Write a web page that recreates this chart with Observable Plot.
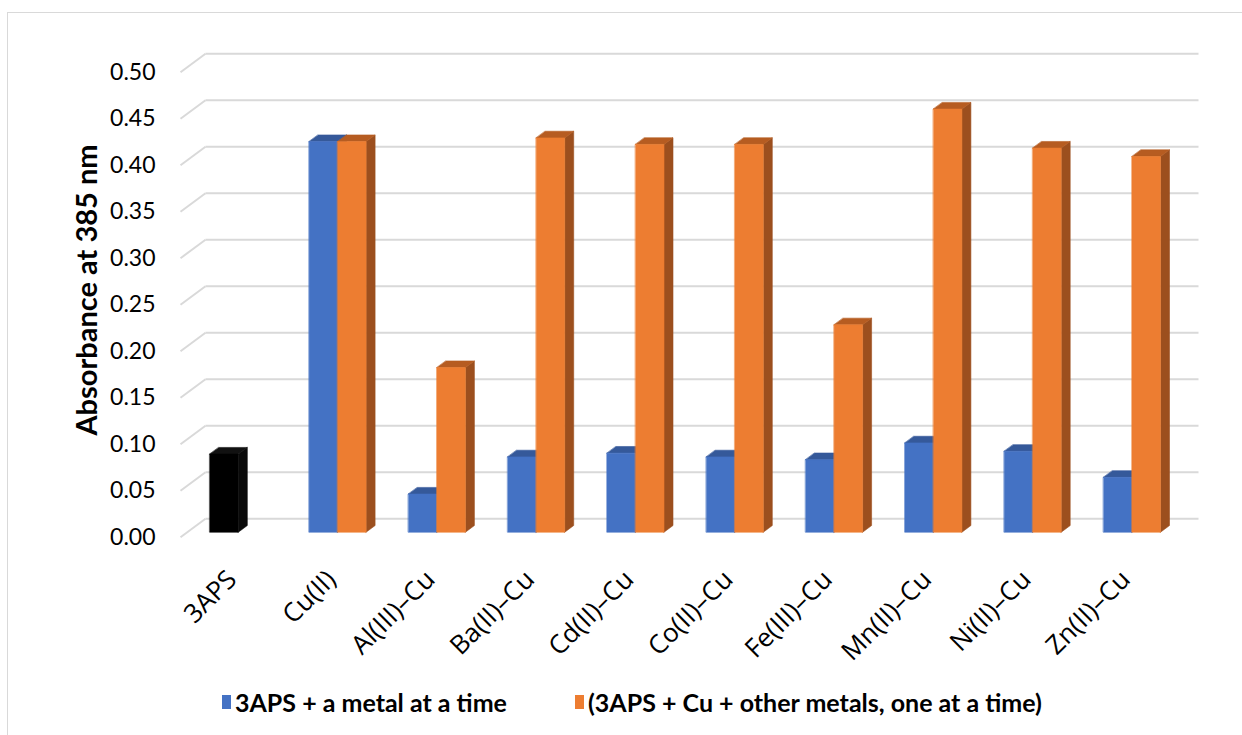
<!DOCTYPE html>
<html>
<head>
<meta charset="utf-8">
<script src="https://cdn.jsdelivr.net/npm/d3@7"></script>
<script src="https://cdn.jsdelivr.net/npm/@observablehq/plot@0.6"></script>
<style>
  html, body { margin: 0; padding: 0; background: #fff; }
  #chart { position: relative; width: 1242px; height: 735px; overflow: hidden; font-family: Lato, "Open Sans", sans-serif; }
  #frame { position: absolute; left: 7px; top: 12px; width: 1260px; height: 760px; border: 1.5px solid #d9d9d9; box-sizing: border-box; }
  #plot { position: absolute; left: 0; top: 0; }
  #ytitle { position: absolute; left: 85px; top: 290px; transform: translate(-50%, -50%) rotate(-90deg); white-space: nowrap; font-weight: 700; font-size: 29px; color: #000; }
  #legend { position: absolute; top: 685px; left: 222px; height: 34px; white-space: nowrap; font-weight: 700; font-size: 25px; color: #000; }
  .sw { display: inline-block; width: 9px; height: 14px; margin-right: 4px; }
  .item { position: absolute; top: 0; display: flex; align-items: center; height: 34px; }
</style>
</head>
<body>
<div id="chart">
  <div id="frame"></div>
  <div id="plot"></div>
  <div id="ytitle"></div>
  <div id="legend"></div>
</div>
<script>
// Absorbance at 385 nm of 3APS alone, with one metal, and with Cu plus a second metal
const categories = ["3APS", "Cu(II)", "Al(III)–Cu", "Ba(II)–Cu", "Cd(II)–Cu", "Co(II)–Cu", "Fe(III)–Cu", "Mn(II)–Cu", "Ni(II)–Cu", "Zn(II)–Cu"];
const singleMetal = [0.084, 0.420, 0.041, 0.081, 0.085, 0.081, 0.078, 0.096, 0.087, 0.059];
const withCopper  = [null, 0.420, 0.177, 0.424, 0.417, 0.417, 0.223, 0.455, 0.413, 0.404];
const seriesNames = ["3APS + a metal at a time", "(3APS + Cu + other metals, one at a time)"];
const yTicks = [0, 0.05, 0.10, 0.15, 0.20, 0.25, 0.30, 0.35, 0.40, 0.45, 0.50];
const yTitle = "Absorbance at 385 nm";
const referenceCategory = "3APS";

// --- layout of the pseudo-3D box ---
const W = 1242, H = 650;
const mLeft = 180, mRight = W - 1173, mTop = 71.7, mBottom = H - 536.7;
const pxPerX = (W - mLeft - mRight) / categories.length;
const pxPerY = (H - mTop - mBottom) / 0.5;
const depthPx = [25, 18.5];                 // back wall offset (right, up)
const dX = depthPx[0] / pxPerX, dY = depthPx[1] / pxPerY;
const proj = (x, y, z) => ({x: x + z * dX, y: y + z * dY});

// bar geometry (in x units, depth fraction)
const barW = 28.5 / pxPerX;
const barStart = (209.3 - mLeft - 0.27 * depthPx[0]) / pxPerX;
const z0 = 0.27, z1 = 0.63;

const faceColors = {
  blue:   {front: "#4472c4", top: "#35599a", side: "#2f5090"},
  orange: {front: "#ed7d31", top: "#b65c21", side: "#9c4f1e"},
  black:  {front: "#000000", top: "#111111", side: "#0a0a0a"}
};

// build polygons for every bar face, in paint order (left to right)
const faces = [];
categories.forEach((c, i) => {
  [singleMetal[i], withCopper[i]].forEach((v, s) => {
    if (v == null) return;
    const pal = c === referenceCategory ? faceColors.black : (s === 0 ? faceColors.blue : faceColors.orange);
    const xa = i + barStart + s * barW, xb = xa + barW;
    const id = `${i}-${s}`;
    const poly = (name, pts) => pts.forEach(p => faces.push({id: `${id}-${name}`, x: p.x, y: p.y, color: pal[name]}));
    poly("side",  [proj(xb, 0, z0), proj(xb, 0, z1), proj(xb, v, z1), proj(xb, v, z0)]);
    poly("top",   [proj(xa, v, z0), proj(xb, v, z0), proj(xb, v, z1), proj(xa, v, z1)]);
    poly("front", [proj(xa, 0, z0), proj(xb, 0, z0), proj(xb, v, z0), proj(xa, v, z0)]);
  });
});

// back wall gridlines and the slanted left-wall lines
const n = categories.length;
const backGrid = yTicks.map(t => {
  const a = proj(0, t, 1), b = proj(n, t, 1);
  return {x1: a.x, y1: a.y, x2: b.x, y2: b.y};
});
const sideGrid = yTicks.map(t => {
  const a = proj(0, t, 0), b = proj(0, t, 1);
  return {x1: a.x, y1: a.y, x2: b.x, y2: b.y};
});

const chart = Plot.plot({
  width: W,
  height: H,
  marginLeft: mLeft, marginRight: mRight, marginTop: mTop, marginBottom: mBottom,
  style: {background: "transparent", fontFamily: "Lato, sans-serif", overflow: "visible"},
  x: {type: "linear", domain: [0, n], axis: null},
  y: {type: "linear", domain: [0, 0.5]},
  color: {type: "identity"},
  marks: [
    Plot.link(backGrid, {x1: "x1", y1: "y1", x2: "x2", y2: "y2", stroke: "#d9d9d9", strokeWidth: 2}),
    Plot.link(sideGrid, {x1: "x1", y1: "y1", x2: "x2", y2: "y2", stroke: "#d9d9d9", strokeWidth: 2}),
    Plot.line(faces, {x: "x", y: "y", z: "id", fill: "color", stroke: "color", strokeWidth: 0.6, curve: "linear-closed"}),
    Plot.axisY({ticks: yTicks, tickFormat: d3.format(".2f"), tickSize: 0, tickPadding: 25, fontSize: 23, label: null, fill: "#000"}),
    Plot.text(categories, {
      x: (d, i) => i + 0.5, y: () => 0, text: d => d,
      rotate: -45, textAnchor: "end", lineAnchor: "middle",
      dx: 2, dy: 38, fontSize: 26, fontFamily: "Open Sans, sans-serif", fill: "#000"
    })
  ]
});
document.getElementById("plot").append(chart);
document.getElementById("ytitle").textContent = yTitle;

// legend below the plot: two entries at fixed columns
const legend = document.getElementById("legend");
const legendColumns = [0, 575 - 222];
[faceColors.blue.front, faceColors.orange.front].forEach((col, k) => {
  const item = document.createElement("span");
  item.className = "item";
  item.style.left = legendColumns[k] + "px";
  const sw = document.createElement("span");
  sw.className = "sw";
  sw.style.background = col;
  const label = document.createElement("span");
  label.textContent = seriesNames[k];
  item.append(sw, label);
  legend.append(item);
});
</script>
</body>
</html>
